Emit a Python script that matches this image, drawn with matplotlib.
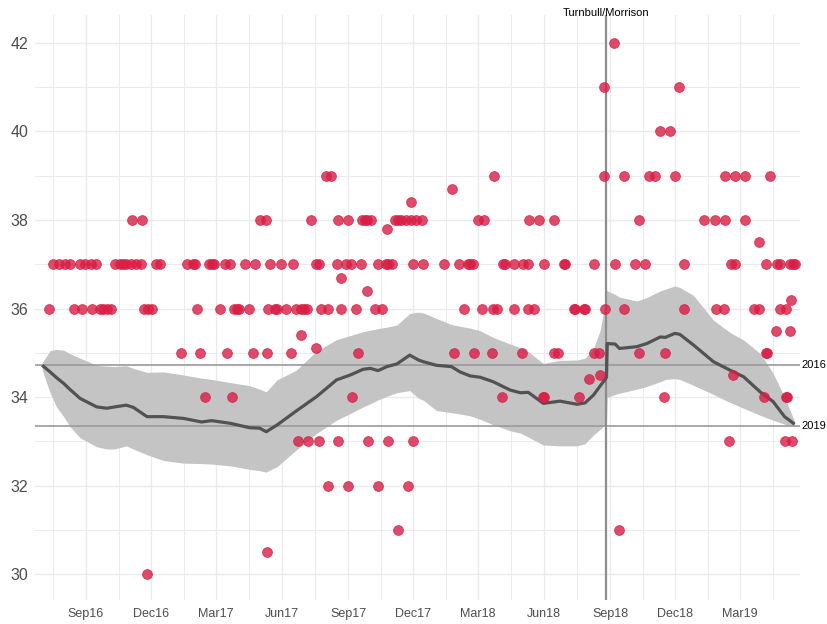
import matplotlib
matplotlib.use("Agg")
import matplotlib.pyplot as plt
import matplotlib.dates as mdates
import matplotlib.transforms as mtransforms
import numpy as np
import pandas as pd

plt.rcParams["font.family"] = ["Liberation Sans", "DejaVu Sans"]

### DATA
# individual polls (ALP primary vote), grouped by value
polls_42 = ["2018-09-07"]
polls_41 = ["2018-08-24", "2018-12-06"]
polls_40 = ["2018-11-09", "2018-11-23"]
polls_39 = ["2017-08-01", "2017-08-08", "2018-03-23", "2018-08-24", "2018-09-21", "2018-10-25",
            "2018-11-02", "2018-11-30", "2019-02-08", "2019-02-22", "2019-03-08", "2019-04-12"]
polls_38 = ["2016-11-04", "2016-11-18", "2017-05-02", "2017-05-10", "2017-07-11", "2017-08-18",
            "2017-09-01", "2017-09-21", "2017-09-25", "2017-09-28", "2017-10-03", "2017-11-06",
            "2017-11-10", "2017-11-14", "2017-11-21", "2017-11-28", "2017-12-05", "2017-12-13",
            "2018-03-01", "2018-03-09", "2018-05-11", "2018-05-25", "2018-06-15", "2018-10-11",
            "2019-01-10", "2019-01-25", "2019-02-08", "2019-03-08"]
polls_37 = ["2016-07-17", "2016-07-25", "2016-08-03", "2016-08-10", "2016-08-24", "2016-08-31",
            "2016-09-08", "2016-09-15", "2016-10-11", "2016-10-18", "2016-10-22", "2016-10-27",
            "2016-11-03", "2016-11-10", "2016-11-16", "2016-12-07", "2016-12-13", "2017-01-20",
            "2017-01-28", "2017-01-31", "2017-02-20", "2017-02-24", "2017-02-27", "2017-03-13",
            "2017-03-20", "2017-04-10", "2017-04-25", "2017-05-16", "2017-05-31", "2017-06-16",
            "2017-07-18", "2017-07-22", "2017-08-16", "2017-08-29", "2017-09-05", "2017-09-19",
            "2017-10-13", "2017-10-24", "2017-10-27", "2017-11-01", "2017-12-01", "2017-12-15",
            "2018-01-13", "2018-02-02", "2018-02-15", "2018-02-18", "2018-02-22", "2018-04-05",
            "2018-04-08", "2018-04-20", "2018-05-03", "2018-05-09", "2018-06-01", "2018-06-29",
            "2018-06-30", "2018-08-10", "2018-09-08", "2018-10-05", "2018-10-19", "2018-12-13",
            "2019-02-17", "2019-02-22", "2019-04-06", "2019-04-22", "2019-04-26", "2019-05-09",
            "2019-05-14", "2019-05-17"]
polls_36 = ["2016-07-11", "2016-08-16", "2016-08-26", "2016-09-09", "2016-09-20", "2016-09-25",
            "2016-09-30", "2016-10-06", "2016-11-21", "2016-11-27", "2016-12-02", "2017-02-03",
            "2017-03-06", "2017-03-26", "2017-03-30", "2017-04-02", "2017-04-16", "2017-05-12",
            "2017-05-22", "2017-05-25", "2017-06-07", "2017-06-20", "2017-06-27", "2017-07-02",
            "2017-07-06", "2017-07-25", "2017-08-04", "2017-08-22", "2017-09-12", "2017-10-09",
            "2017-10-18", "2018-02-09", "2018-03-06", "2018-03-22", "2018-03-27", "2018-04-20",
            "2018-05-10", "2018-05-18", "2018-07-13", "2018-07-14", "2018-07-27", "2018-07-28",
            "2018-08-25", "2018-09-21", "2018-12-13", "2019-01-26", "2019-02-06", "2019-03-21",
            "2019-03-27", "2019-04-26", "2019-05-04"]
polls_35 = ["2017-01-12", "2017-02-07", "2017-03-17", "2017-04-21", "2017-05-11", "2017-06-14",
            "2017-09-15", "2018-01-27", "2018-02-23", "2018-03-20", "2018-05-01", "2018-06-15",
            "2018-06-21", "2018-08-10", "2018-08-17", "2018-10-11", "2018-11-17", "2019-04-06",
            "2019-04-07"]
polls_34 = ["2017-02-14", "2017-03-23", "2017-09-07", "2018-04-04", "2018-05-31", "2018-06-01",
            "2018-07-20", "2018-11-15", "2019-04-04", "2019-05-04", "2019-05-05"]
polls_33 = ["2017-06-23", "2017-07-07", "2017-07-22", "2017-08-18", "2017-09-29", "2017-10-27",
            "2017-12-01", "2019-02-13", "2019-05-02", "2019-05-13"]
polls_32 = ["2017-08-04", "2017-09-01", "2017-10-13", "2017-11-24"]
polls_31 = ["2017-11-10", "2018-09-13"]
polls_30 = ["2016-11-25"]

# polls with non-integer results
odd_dates = ["2017-06-28", "2017-07-18", "2017-08-22", "2017-09-28", "2017-10-25", "2017-11-28",
             "2018-01-24", "2018-08-02", "2018-08-18", "2019-02-19", "2019-03-27", "2019-04-20",
             "2019-05-10", "2019-05-11", "2017-05-11"]
odd_vals = [35.4, 35.1, 36.7, 36.4, 37.8, 38.4, 38.7, 34.4, 34.5, 34.5, 37.5, 35.5, 35.5, 36.2, 30.5]

# smoothed trend with interval
trend_dates = ["2016-07-02", "2016-07-13", "2016-07-22", "2016-08-01", "2016-08-10", "2016-08-24",
               "2016-09-16", "2016-09-30", "2016-10-11", "2016-10-27", "2016-11-06", "2016-11-25",
               "2016-12-18", "2017-01-15", "2017-02-09", "2017-02-23", "2017-03-21", "2017-04-17",
               "2017-05-01", "2017-05-10", "2017-05-25", "2017-06-21", "2017-07-19", "2017-08-16",
               "2017-09-04", "2017-09-22", "2017-10-02", "2017-10-13", "2017-10-25", "2017-11-08",
               "2017-11-26", "2017-12-08", "2017-12-15", "2018-01-02", "2018-01-23", "2018-02-04",
               "2018-02-18", "2018-03-04", "2018-03-22", "2018-04-15", "2018-04-29", "2018-05-10",
               "2018-05-31", "2018-06-23", "2018-07-17", "2018-07-28", "2018-08-09", "2018-08-18",
               "2018-08-25", "2018-08-27", "2018-08-28", "2018-09-08", "2018-09-14", "2018-10-08",
               "2018-10-22", "2018-11-10", "2018-11-17", "2018-11-30", "2018-12-07", "2018-12-26",
               "2019-01-23", "2019-02-15", "2019-03-06", "2019-03-29", "2019-04-16", "2019-05-02",
               "2019-05-16"]
trend_mid = [34.72, 34.57, 34.44, 34.31, 34.17, 33.97, 33.78, 33.75, 33.78, 33.82, 33.77, 33.56,
             33.56, 33.52, 33.44, 33.47, 33.41, 33.31, 33.30, 33.22, 33.37, 33.69, 34.01, 34.39,
             34.50, 34.63, 34.65, 34.60, 34.69, 34.75, 34.95, 34.84, 34.80, 34.72, 34.69, 34.57,
             34.48, 34.45, 34.35, 34.16, 34.10, 34.11, 33.86, 33.91, 33.84, 33.87, 34.05, 34.25,
             34.40, 34.45, 35.21, 35.20, 35.10, 35.14, 35.21, 35.36, 35.35, 35.44, 35.42, 35.18,
             34.80, 34.61, 34.46, 34.12, 33.90, 33.56, 33.39]
trend_lo = [34.62, 34.10, 33.78, 33.56, 33.33, 33.08, 32.88, 32.83, 32.83, 32.90, 32.83, 32.70,
            32.57, 32.51, 32.50, 32.49, 32.45, 32.37, 32.34, 32.31, 32.43, 32.81, 33.18, 33.48,
            33.63, 33.78, 33.85, 33.94, 34.02, 34.10, 34.15, 33.98, 33.93, 33.70, 33.65, 33.62,
            33.58, 33.50, 33.38, 33.24, 33.19, 33.10, 32.92, 32.90, 32.90, 32.95, 33.15, 33.27,
            33.38, 33.45, 34.00, 34.06, 34.09, 34.18, 34.24, 34.35, 34.40, 34.42, 34.40, 34.27,
            34.06, 33.88, 33.75, 33.59, 33.48, 33.39, 33.33]
trend_hi = [34.78, 35.05, 35.08, 35.06, 34.98, 34.88, 34.72, 34.70, 34.69, 34.71, 34.65, 34.56,
            34.57, 34.50, 34.43, 34.40, 34.33, 34.26, 34.18, 34.12, 34.39, 34.61, 35.04, 35.30,
            35.39, 35.48, 35.51, 35.55, 35.58, 35.63, 35.89, 35.92, 35.90, 35.78, 35.64, 35.60,
            35.56, 35.50, 35.35, 35.20, 35.12, 35.03, 34.76, 34.83, 34.84, 34.88, 35.10, 35.50,
            36.10, 36.42, 36.40, 36.32, 36.26, 36.17, 36.25, 36.40, 36.44, 36.51, 36.48, 36.30,
            35.74, 35.46, 35.29, 34.99, 34.54, 34.00, 33.45]

# election results and leadership change
results = {"2016": 34.73, "2019": 33.34}
spill_date = "2018-08-26"
spill_label = "Turnbull/Morrison"

### BUILD POINTS
groups = [(42, polls_42), (41, polls_41), (40, polls_40), (39, polls_39), (38, polls_38),
          (37, polls_37), (36, polls_36), (35, polls_35), (34, polls_34), (33, polls_33),
          (32, polls_32), (31, polls_31), (30, polls_30)]
pt_dates = []
pt_vals = []
for v, ds in groups:
    pt_dates += ds
    pt_vals += [v] * len(ds)
pt_dates += odd_dates
pt_vals += odd_vals
pt_dates = pd.to_datetime(pt_dates)
t_dates = pd.to_datetime(trend_dates)

### PLOT
fig = plt.figure(figsize=(8.28, 6.24), dpi=100)
ax = fig.add_axes([35 / 828, 24 / 624, 765 / 828, 585 / 624])

ax.fill_between(t_dates, trend_lo, trend_hi, color="#c4c4c4", lw=0, zorder=1)
for lab, v in results.items():
    ax.axhline(v, color="#9a9a9a", lw=1.2, zorder=2)
    ax.text(1.002, v, lab, transform=mtransforms.blended_transform_factory(ax.transAxes, ax.transData),
            ha="left", va="center", fontsize=8, color="black", clip_on=False)
sd = pd.Timestamp(spill_date)
ax.axvline(sd, color="#8c8c8c", lw=1.6, zorder=2)
ax.text(sd, 1.004, spill_label, transform=mtransforms.blended_transform_factory(ax.transData, ax.transAxes),
        ha="center", va="center", fontsize=8, color="black", clip_on=False)
ax.plot(t_dates, trend_mid, color="#525252", lw=2.3, zorder=3, solid_capstyle="butt")
ax.scatter(pt_dates, pt_vals, s=50, color="#d81e45", alpha=0.8, lw=0.6, zorder=4)

# axes
ax.set_xlim(pd.Timestamp("2016-06-22"), pd.Timestamp("2019-05-23 12:00"))
ax.set_ylim(29.42, 42.63)
majors = pd.date_range("2016-06-01", "2019-06-01", freq="3MS")
mids = majors[:-1] + (majors[1:] - majors[:-1]) / 2
ax.set_xticks(majors[1:-1])
ax.set_xticks(mids, minor=True)
ax.xaxis.set_major_formatter(mdates.DateFormatter("%b%y"))
ax.set_yticks(np.arange(30, 43, 2))
ax.set_yticks(np.arange(31, 42, 2), minor=True)
ax.grid(which="major", color="#ebebeb", lw=1.0, zorder=0)
ax.grid(which="minor", color="#ebebeb", lw=0.7, zorder=0)
ax.set_axisbelow(True)
for s in ax.spines.values():
    s.set_visible(False)
ax.tick_params(which="both", length=0)
ax.tick_params(axis="x", labelsize=9, labelcolor="#4d4d4d", pad=6)
ax.tick_params(axis="y", labelsize=11.5, labelcolor="#4d4d4d", pad=5)

plt.savefig("out.png", dpi=100)
